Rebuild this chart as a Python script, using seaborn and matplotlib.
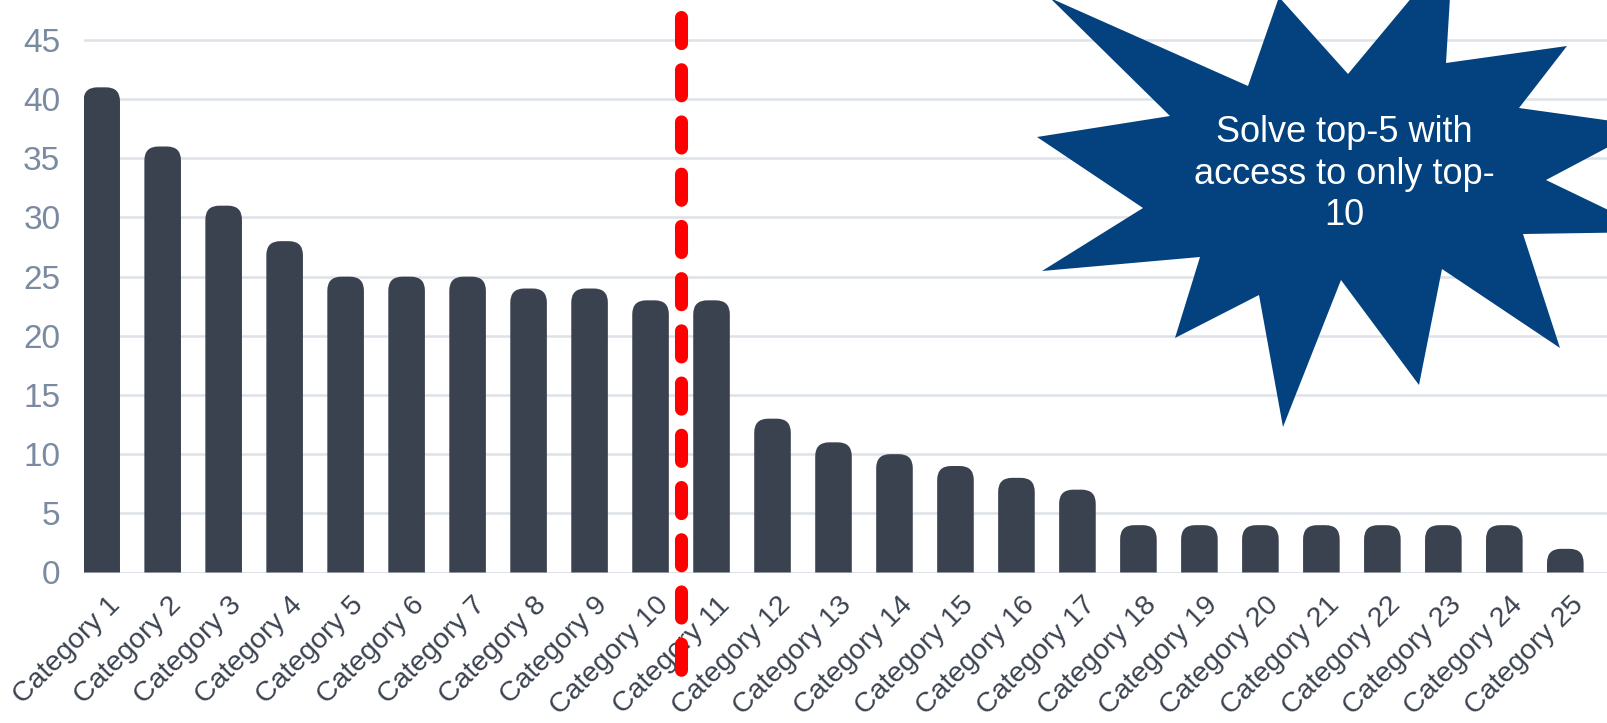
import seaborn as sns
import matplotlib.pyplot as plt
import pandas as pd
from matplotlib.patches import FancyBboxPatch, Polygon
from matplotlib.transforms import ScaledTranslation

categories = [f'Category {i}' for i in range(1, 26)]
values = [41, 36, 31, 28, 25, 25, 25, 24, 24, 23, 23, 13, 11, 10, 9, 8, 7,
          4, 4, 4, 4, 4, 4, 4, 2]
yticks = [0, 5, 10, 15, 20, 25, 30, 35, 40, 45]
cutoff_after = 10  # red line sits between category 10 and 11
callout = 'Solve top-5 with\naccess to only top-\n10'

# starburst outline in pixels (x, y from top-left of the figure)
star_px = [(1050, -2), (1170, 116), (1037, 137), (1143, 208), (1042, 271),
           (1200, 257), (1175, 338), (1259, 295), (1283, 427), (1341, 280),
           (1419, 385), (1442, 269), (1560, 348), (1523, 234), (1654, 232),
           (1546, 180), (1648, 126), (1519, 108), (1567, 46), (1446, 63),
           (1453, -52), (1348, 74), (1279, -3), (1248, 86)]

W, H = 1608, 723
bar_color = '#39424e'

sns.set_theme(style='white')
plt.rcParams['font.family'] = ['Liberation Sans', 'DejaVu Sans']

df = pd.DataFrame({'category': categories, 'value': values})

fig = plt.figure(figsize=(W / 100, H / 100), dpi=100)
ax = fig.add_axes([84 / W, 1 - 572.5 / H, 1 - 84 / W, 572.5 / H])
sns.barplot(data=df, x='category', y='value', color=bar_color, width=0.6,
            saturation=1, ax=ax)
ax.set_xlim(-0.29, 24.7)
ax.set_ylim(0, 48.38)

# round the tops of the bars
px_x = ax.bbox.width / (24.7 + 0.29)
px_y = ax.bbox.height / 48.38
rx, ry = 14 / px_x, 14 / px_y
for bar in list(ax.patches):
    x, w, h = bar.get_x(), bar.get_width(), bar.get_height()
    bar.remove()
    ax.add_patch(FancyBboxPatch((x, -2 * ry), w, h + 2 * ry,
                                boxstyle=f'round,pad=0,rounding_size={rx}',
                                mutation_aspect=ry / rx, fc=bar_color,
                                ec='none', zorder=2))

ax.yaxis.grid(True, color='#dde2e9', lw=1.8)
ax.xaxis.grid(False)
ax.set_axisbelow(True)
ax.axhline(0, color='#d6dbe2', lw=2, alpha=0.6, zorder=3)
for s in ax.spines.values():
    s.set_visible(False)

ax.set_yticks(yticks)
ax.tick_params(axis='y', length=0, pad=17, labelsize=24, labelcolor='#7a8aa0')
ax.set_xticks(range(len(categories)))
ax.set_xticklabels(categories, rotation=45, ha='right', va='top',
                   rotation_mode='anchor', fontsize=20.5, color='#3b4350')
ax.tick_params(axis='x', length=0, pad=14)
shift = ScaledTranslation(5 / 100, 0, fig.dpi_scale_trans)
for lbl in ax.get_xticklabels():
    lbl.set_transform(lbl.get_transform() + shift)
ax.set_xlabel('')
ax.set_ylabel('')

# red dashed cut-off line
cut = cutoff_after - 0.5
ax.plot([cut, cut], [48.38 - 16.5 / px_y, 48.38 - 681.5 / px_y], color='red',
        lw=9.4, dashes=(2, 2), dash_capstyle='round', clip_on=False, zorder=5)

# starburst callout
star = Polygon([(x / W, 1 - y / H) for x, y in star_px], closed=True,
               transform=fig.transFigure, fc='#03427f', ec='none', zorder=6)
fig.add_artist(star)
fig.text(1344 / W, 1 - 174 / H, callout, ha='center', va='center',
         color='white', fontsize=26, linespacing=1.25, zorder=7)

fig.savefig('out.png', dpi=100)
